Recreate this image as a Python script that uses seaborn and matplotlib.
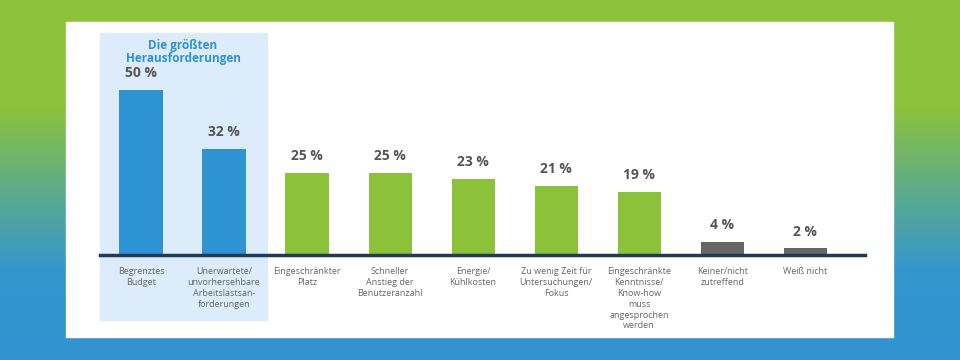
import numpy as np
import pandas as pd
import seaborn as sns
import matplotlib.pyplot as plt
from matplotlib.colors import LinearSegmentedColormap
from matplotlib.patches import Rectangle

categories = [
    "Begrenztes\nBudget",
    "Unerwartete/\nunvorhersehbare\nArbeitslastsan-\nforderungen",
    "Eingeschränkter\nPlatz",
    "Schneller\nAnstieg der\nBenutzeranzahl",
    "Energie/\nKühlkosten",
    "Zu wenig Zeit für\nUntersuchungen/\nFokus",
    "Eingeschränkte\nKenntnisse/\nKnow-how\nmuss\nangesprochen\nwerden",
    "Keiner/nicht\nzutreffend",
    "Weiß nicht",
]
values = [50, 32, 25, 25, 23, 21, 19, 4, 2]
groups = ["top", "top", "other", "other", "other", "other", "other", "none", "none"]
group_colors = {"top": "#2e93d2", "other": "#8cc23a", "none": "#666666"}

W, H = 960, 360
fig = plt.figure(figsize=(W / 100, H / 100), dpi=100)

# gradient background
bg = fig.add_axes([0, 0, 1, 1])
cmap = LinearSegmentedColormap.from_list(
    "bg", [(0, "#8dc43a"), (0.3, "#8bc23c"), (0.55, "#5aaa90"),
           (0.75, "#3596cc"), (1, "#3193d0")])
grad = np.linspace(0, 1, 256).reshape(-1, 1)
bg.imshow(grad, aspect="auto", cmap=cmap, extent=[0, 1, 0, 1])
bg.set_xlim(0, 1)
bg.set_ylim(0, 1)
bg.set_axis_off()

# white panel and highlight box
bg.add_patch(Rectangle((66 / W, 1 - 337 / H), (893 - 66) / W, (337 - 22) / H,
                       color="white", zorder=2))
bg.add_patch(Rectangle((100 / W, 1 - 320 / H), (267 - 100) / W, (320 - 33) / H,
                       color="#dcecfa", zorder=3))

ax = fig.add_axes([100 / W, 105 / H, 765 / W, 225 / H])
ax.patch.set_alpha(0)
df = pd.DataFrame({"cat": categories, "val": values, "grp": groups})
sns.barplot(data=df, x="cat", y="val", hue="grp", palette=group_colors,
            dodge=False, width=0.52, legend=False, saturation=1, ax=ax)

ax.set_xlim(-0.494, 8.72)
ax.set_ylim(0, 225 / 3.3)
sns.despine(ax=ax, left=True, top=True, right=True)
ax.spines["bottom"].set_color("#1f3a5a")
ax.spines["bottom"].set_linewidth(2.5)
ax.set_yticks([])
ax.set_xlabel("")
ax.set_ylabel("")
ax.tick_params(axis="x", length=0, pad=9)
ax.set_xticks(range(len(categories)))
ax.set_xticklabels(categories, fontsize=6.5, color="#666666", linespacing=1.25,
                   va="top", family="Open Sans")

for i, v in enumerate(values):
    ax.text(i, v + 3.0, f"{v} %", ha="center", va="bottom", fontsize=10,
            fontweight="bold", color="#555555", family="Open Sans")

fig.text(183 / W, 1 - 52 / H, "Die größten\nHerausforderungen", ha="center",
         va="center", fontsize=8.5, fontweight="bold", color="#2e93d2",
         linespacing=1.05, family="Open Sans")

fig.savefig("out.png", dpi=100)
